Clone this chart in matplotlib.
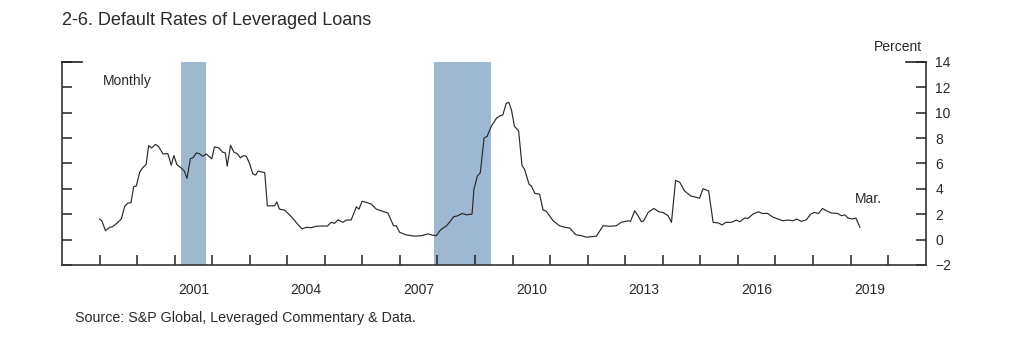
import numpy as np
import matplotlib.pyplot as plt

plt.rcParams['font.family'] = ['Liberation Sans', 'DejaVu Sans']

# default rate, monthly (decimal year, percent)
dates = [1999.00, 1999.06, 1999.16, 1999.27, 1999.35, 1999.46, 1999.58, 1999.67, 1999.75, 1999.84,
         1999.91, 1999.98, 2000.07, 2000.15, 2000.24, 2000.31, 2000.39, 2000.49, 2000.57, 2000.69,
         2000.82, 2000.91, 2000.98, 2001.06, 2001.19, 2001.26, 2001.33, 2001.42, 2001.49, 2001.58,
         2001.66, 2001.75, 2001.84, 2001.99, 2002.06, 2002.18, 2002.28, 2002.35, 2002.40, 2002.49,
         2002.58, 2002.67, 2002.75, 2002.84, 2002.91, 2003.00, 2003.08, 2003.16, 2003.22, 2003.31,
         2003.40, 2003.47, 2003.57, 2003.66, 2003.72, 2003.79, 2003.93, 2004.04, 2004.15, 2004.27,
         2004.39, 2004.51, 2004.64, 2004.77, 2004.91, 2005.07, 2005.17, 2005.26, 2005.35, 2005.48,
         2005.57, 2005.70, 2005.84, 2005.91, 2005.99, 2006.12, 2006.24, 2006.37, 2006.50, 2006.68,
         2006.83, 2006.90, 2006.99, 2007.17, 2007.39, 2007.57, 2007.75, 2007.84, 2007.97, 2008.08,
         2008.24, 2008.32, 2008.43, 2008.54, 2008.66, 2008.77, 2008.92, 2008.97, 2009.06, 2009.14,
         2009.24, 2009.32, 2009.43, 2009.57, 2009.66, 2009.74, 2009.83, 2009.90, 2009.97, 2010.05,
         2010.16, 2010.25, 2010.32, 2010.44, 2010.50, 2010.59, 2010.72, 2010.81, 2010.90, 2011.08,
         2011.25, 2011.39, 2011.52, 2011.68, 2011.83, 2011.96, 2012.10, 2012.23, 2012.41, 2012.59,
         2012.76, 2012.89, 2013.07, 2013.14, 2013.25, 2013.34, 2013.43, 2013.49, 2013.61, 2013.76,
         2013.90, 2014.00, 2014.14, 2014.23, 2014.34, 2014.45, 2014.58, 2014.74, 2014.98, 2015.07,
         2015.22, 2015.34, 2015.49, 2015.58, 2015.67, 2015.83, 2015.96, 2016.05, 2016.18, 2016.27,
         2016.40, 2016.55, 2016.64, 2016.79, 2016.94, 2017.07, 2017.20, 2017.34, 2017.47, 2017.56,
         2017.69, 2017.82, 2017.94, 2018.04, 2018.15, 2018.25, 2018.36, 2018.49, 2018.65, 2018.76,
         2018.85, 2018.93, 2019.05, 2019.14, 2019.25]
rates = [1.62, 1.49, 0.70, 0.97, 1.02, 1.28, 1.62, 2.61, 2.87, 2.92,
         4.17, 4.22, 5.31, 5.66, 5.91, 7.40, 7.22, 7.50, 7.34, 6.75,
         6.77, 5.86, 6.62, 5.91, 5.60, 5.39, 4.82, 6.38, 6.44, 6.83,
         6.77, 6.56, 6.75, 6.36, 7.30, 7.22, 6.88, 6.83, 5.78, 7.42,
         6.88, 6.77, 6.44, 6.62, 6.56, 5.97, 5.19, 5.08, 5.39, 5.34,
         5.27, 2.66, 2.66, 2.66, 2.97, 2.40, 2.32, 2.01, 1.67, 1.23,
         0.84, 0.97, 0.94, 1.05, 1.07, 1.07, 1.36, 1.28, 1.56, 1.36,
         1.54, 1.54, 2.58, 2.40, 3.02, 2.92, 2.79, 2.40, 2.27, 2.09,
         1.09, 1.09, 0.58, 0.37, 0.27, 0.31, 0.45, 0.37, 0.31, 0.76,
         1.09, 1.36, 1.80, 1.88, 2.06, 1.95, 2.01, 3.96, 5.00, 5.27,
         8.00, 8.13, 8.91, 9.56, 9.74, 9.82, 10.73, 10.81, 10.21, 8.91,
         8.57, 5.84, 5.52, 4.35, 4.22, 3.65, 3.57, 2.34, 2.22, 1.48,
         1.09, 0.97, 0.91, 0.39, 0.31, 0.19, 0.23, 0.27, 1.09, 1.05,
         1.09, 1.36, 1.48, 1.44, 2.27, 1.88, 1.41, 1.48, 2.14, 2.45,
         2.19, 2.14, 1.88, 1.36, 4.66, 4.52, 3.83, 3.44, 3.26, 4.01,
         3.83, 1.36, 1.30, 1.15, 1.36, 1.36, 1.54, 1.41, 1.70, 1.67,
         2.01, 2.19, 2.06, 2.06, 1.75, 1.62, 1.48, 1.54, 1.48, 1.62,
         1.44, 1.56, 2.01, 2.14, 2.06, 2.45, 2.27, 2.09, 2.06, 1.88,
         1.95, 1.70, 1.62, 1.70, 0.97]

# recessions (start, end)
rec_start = [2001.18, 2007.92]
rec_end = [2001.84, 2009.42]

year_ticks = list(range(1999, 2021))
year_labels = ['2001', '2004', '2007', '2010', '2013', '2016', '2019']
y_ticks = [-2, 0, 2, 4, 6, 8, 10, 12, 14]

fig = plt.figure(figsize=(10.24, 3.38), dpi=100)
ax = fig.add_axes([0.0605, 0.216, 0.8435, 0.601])

for s, e in zip(rec_start, rec_end):
    ax.axvspan(s, e, color='#9fb8d1', lw=0, zorder=1)
ax.plot(dates, rates, color='#2a2a2a', lw=0.85, zorder=3)

ax.set_xlim(1998, 2021)
ax.set_ylim(-2, 14)

# years as major ticks, labels sit mid-year on minor ticks
ax.set_xticks(year_ticks)
ax.set_xticklabels([])
ax.set_xticks([int(y) + 0.5 for y in year_labels], minor=True)
ax.set_xticklabels(year_labels, minor=True)
ax.tick_params(axis='x', which='major', direction='in', length=7, width=1.1, color='#222222')
ax.tick_params(axis='x', which='minor', length=0, pad=13, labelsize=10, labelcolor='#2a2a2a')

ax.set_yticks(y_ticks)
ax.yaxis.set_ticks_position('both')
ax.tick_params(axis='y', direction='in', length=7, width=1.1, color='#222222',
               labelleft=False, labelright=True, pad=7, labelsize=10, labelcolor='#2a2a2a')

ax.spines['top'].set_visible(False)
for side in ['left', 'right', 'bottom']:
    ax.spines[side].set_linewidth(1.2)
    ax.spines[side].set_color('#333333')

# longer top ticks
ax.plot([0, 0.023], [1, 1], transform=ax.transAxes, color='#222222', lw=1.2, clip_on=False)
ax.plot([0.977, 1], [1, 1], transform=ax.transAxes, color='#222222', lw=1.2, clip_on=False)

ax.text(0.047, 0.905, 'Monthly', transform=ax.transAxes, fontsize=10, va='center', color='#2a2a2a')
ax.text(0.918, 0.325, 'Mar.', transform=ax.transAxes, fontsize=10, va='center', color='#2a2a2a')

fig.text(0.9, 0.861, 'Percent', fontsize=10, ha='right', va='center', color='#2a2a2a')
fig.text(0.0605, 0.94, '2-6. Default Rates of Leveraged Loans', fontsize=13, va='center', color='#2a2a2a')
fig.text(0.073, 0.06, 'Source: S&P Global, Leveraged Commentary & Data.', fontsize=10.3,
         va='center', color='#2a2a2a')

fig.savefig('out.png', dpi=100)
